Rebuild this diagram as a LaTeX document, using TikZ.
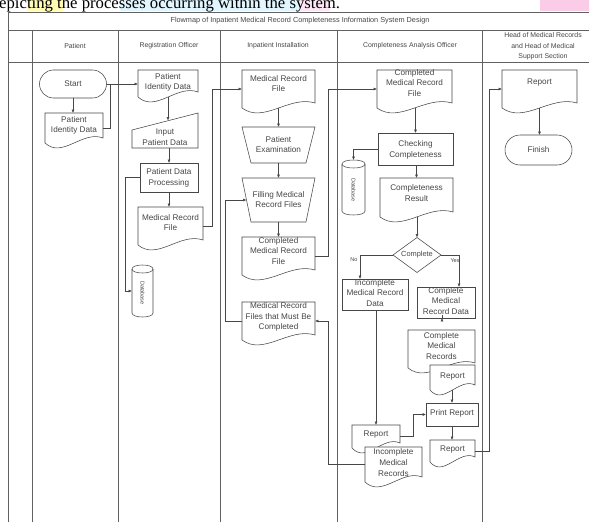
\documentclass[tikz,border=0pt]{standalone}
\usepackage{fontspec}
\setmainfont{Liberation Sans}
\newfontfamily\serifont{Liberation Serif}
\usetikzlibrary{calc,arrows.meta}
\newcommand\docout[2][]{%
  \draw[lin,#1] (#2.south west) -- (#2.north west) -- (#2.north east) -- ($(#2.south east)+(0,-5)$)
    .. controls ($(#2.south west)!0.65!(#2.south east)+(0,-13)$) and ($(#2.south west)!0.3!(#2.south east)+(0,16)$) .. (#2.south west) -- cycle;}
\newcommand\cylout[1]{%
  \draw[lin] ($(#1.north west)+(0,4)$) -- ($(#1.south west)+(0,-4)$)
    .. controls ($(#1.south west)+(0,1.33)$) and ($(#1.south east)+(0,1.33)$) .. ($(#1.south east)+(0,-4)$)
    -- ($(#1.north east)+(0,4)$);
  \draw[lin] ($(#1.north west)+(0,4)$) .. controls ($(#1.north west)+(0,-1.33)$) and ($(#1.north east)+(0,-1.33)$) .. ($(#1.north east)+(0,4)$)
    .. controls ($(#1.north east)+(0,9.33)$) and ($(#1.north west)+(0,9.33)$) .. ($(#1.north west)+(0,4)$);}
\begin{document}
\begin{tikzpicture}[x=1pt,y=-1pt,
  lin/.style={draw=black!72, line width=0.55pt},
  frm/.style={draw=black!62, line width=0.6pt},
  arr/.style={lin, -{Latex[length=3.4pt,width=3pt]}},
  shp/.style={inner sep=0pt, outer sep=0pt, minimum width=#1},
  txt/.style={font=\fontsize{8.2}{10.6}\selectfont, text=black!72, align=center, inner sep=0pt},
  hdr/.style={font=\fontsize{6.9}{10.5}\selectfont, text=black!72, align=center, inner sep=0pt},
  sml/.style={font=\fontsize{5.5}{6}\selectfont, text=black!72, inner sep=0pt},
  procbox/.style={lin, draw, fill=white},
  term/.style={lin, draw, rounded corners=#1}]
\useasboundingbox (0,0) rectangle (589,522);
\begin{scope}
\clip (0,0) rectangle (589,522);
\fill[white] (0,0) rectangle (589,522);
% highlights and clipped caption text above the table
\fill[yellow!30] (27,0) rectangle (63,11);
\fill[cyan!12] (120,0) rectangle (300,11);
\fill[magenta!10] (300,0) rectangle (330,11);
\fill[magenta!20] (540,0) rectangle (589,11);
\node[anchor=base west, inner sep=0pt, font=\serifont\fontsize{16.7}{18}\selectfont] (cap) at (-1,8.5) {epicting the processes occurring within the system.};
% frame
\draw[frm] (8,12) -- (610,12);
\draw[frm] (8,30) -- (610,30);
\draw[frm] (8,62) -- (610,62);
\draw[frm] (8,12) -- (8,530);
\draw[frm] (32,30) -- (32,530);
\draw[frm] (118,30) -- (118,530);
\draw[frm] (220,30) -- (220,530);
\draw[frm] (337,30) -- (337,530);
\draw[frm] (482,30) -- (482,530);
\draw[frm] (604,12) -- (604,530);
\node[hdr, font=\fontsize{7.3}{9}\selectfont] (title) at (300,21) {Flowmap of Inpatient Medical Record Completeness Information System Design};
\node[hdr] (h1) at (75,46) {Patient};
\node[hdr] (h2) at (169,46) {Registration Officer};
\node[hdr] (h3) at (278,46) {Inpatient Installation};
\node[hdr] (h4) at (410,46) {Completeness Analysis Officer};
\node[hdr] (h5) at (543,46.5) {Head of Medical Records\\and Head of Medical\\Support Section};

% ---- Patient
\node[shp=67, minimum height=28, term=14pt] (start) at (73,84) {};
\node[txt] (startt) at (73,84) {Start};
\node[shp=58, minimum height=30] (pid1) at (74,128) {};
\docout{pid1}
\node[txt] (pid1t) at (74,125.5) {Patient\\Identity Data};

% ---- Registration Officer
\node[shp=60, minimum height=27] (pid2) at (168,83.5) {};
\docout{pid2}
\node[txt] (pid2t) at (168,82.5) {Patient\\Identity Data};
\node[shp=66, minimum height=35] (inp) at (165,130.5) {};
\draw[lin] (inp.south west) -- ($(inp.north west)+(0,17)$) -- (inp.north east) -- (inp.south east) -- cycle;
\node[txt] (inpt) at (165,137) {Input\\Patient Data};
\coordinate (inptop) at (168,120.5);
\node[shp=58, minimum height=29, procbox] (proc) at (169,177.5) {};
\node[txt] (proct) at (169,178) {Patient Data\\Processing};
\node[shp=65, minimum height=38] (mrf1) at (170.5,226) {};
\docout{mrf1}
\node[txt] (mrf1t) at (170.5,222.5) {Medical Record\\File};
\node[shp=21, minimum height=52] (cyl1) at (142.5,291) {};
\cylout{cyl1}
\node[sml, rotate=-90] (cyl1t) at (142.5,293) {Database};

% ---- Inpatient Installation
\node[shp=73, minimum height=38] (mrf2) at (278.5,89) {};
\docout{mrf2}
\node[txt] (mrf2t) at (278.5,83.5) {Medical Record\\File};
\node[shp=73, minimum height=36] (exam) at (278.5,145) {};
\draw[lin] (exam.north west) -- (exam.north east) -- ($(exam.south east)+(-9,0)$) -- ($(exam.south west)+(9,0)$) -- cycle;
\node[txt] (examt) at (278.5,144.5) {Patient\\Examination};
\node[shp=73, minimum height=44] (fill) at (278.5,200) {};
\draw[lin] (fill.north west) -- (fill.north east) -- ($(fill.south east)+(-9,0)$) -- ($(fill.south west)+(9,0)$) -- cycle;
\node[txt] (fillt) at (278.5,199.5) {Filling Medical\\Record Files};
\coordinate (fillin) at ($(fill.west)+(4.5,0)$);
\node[shp=73, minimum height=38] (cmrf1) at (278.5,256) {};
\docout{cmrf1}
\node[txt] (cmrf1t) at (278.5,251) {Completed\\Medical Record\\File};
\node[shp=73, minimum height=38] (must) at (278.5,321) {};
\docout{must}
\node[txt] (mustt) at (278.5,317) {Medical Record\\Files that Must Be\\Completed};

% ---- Completeness Analysis Officer
\node[shp=75, minimum height=38] (cmrf2) at (414.5,89) {};
\docout{cmrf2}
\node[txt] (cmrf2t) at (414.5,83) {Completed\\Medical Record\\File};
\node[shp=75, minimum height=32, procbox] (chk) at (415.5,149) {};
\node[txt] (chkt) at (415.5,150) {Checking\\Completeness};
\node[shp=23, minimum height=55] (cyl2) at (353.5,187.5) {};
\cylout{cyl2}
\node[sml, rotate=-90] (cyl2t) at (353.5,190) {Database};
\node[shp=73, minimum height=39] (cres) at (416.5,197.5) {};
\docout{cres}
\node[txt] (crest) at (416.5,193) {Completeness\\Result};
\node[shp=48, minimum height=35] (dia) at (417,255) {};
\draw[lin] (dia.north) -- (dia.east) -- (dia.south) -- (dia.west) -- cycle;
\node[txt, font=\fontsize{7.4}{9}\selectfont] (diat) at (417,254.5) {Complete};
\node[shp=66, minimum height=31, procbox] (inc) at (375,294.5) {};
\node[txt] (inct) at (375,293) {Incomplete\\Medical Record\\Data};
\coordinate (incin) at ($(inc.north west)+(18,0)$);
\node[shp=58, minimum height=31, procbox] (cmd) at (446,302.5) {};
\node[txt] (cmdt) at (446,301) {Complete\\Medical\\Record Data};
\coordinate (cmdin) at ($(cmd.north west)+(42,0)$);
\node[shp=67, minimum height=38] (cmr) at (441.5,349) {};
\docout{cmr}
\node[txt] (cmrt) at (441.5,346) {Complete\\Medical\\Records};
\node[shp=45, minimum height=25] (rep1) at (452.5,377.5) {};
\docout[fill=white]{rep1}
\node[txt] (rep1t) at (452.5,377) {Report};
\node[shp=52, minimum height=23, procbox] (prt) at (452,414.5) {};
\node[txt] (prtt) at (452,413.5) {Print Report};
\node[shp=48, minimum height=23] (rep2) at (376,436.5) {};
\docout[fill=white]{rep2}
\node[txt] (rep2t) at (376,435) {Report};
\node[shp=57, minimum height=35] (imr) at (393.5,464.5) {};
\docout[fill=white]{imr}
\node[txt] (imrt) at (393.5,462.5) {Incomplete\\Medical\\Records};
\node[shp=45, minimum height=22] (rep3) at (452.5,451) {};
\docout[fill=white]{rep3}
\node[txt] (rep3t) at (452.5,450) {Report};

% ---- Head of Medical Records
\node[shp=75, minimum height=38] (rep4) at (539.5,89) {};
\docout{rep4}
\node[txt] (rep4t) at (539.5,83) {Report};
\node[shp=67, minimum height=30, term=15pt] (fin) at (538.5,150) {};
\node[txt] (fint) at (538.5,150) {Finish};

% ---- connectors
\draw[arr] (start.south) -- (start.south |- pid1.north);
\draw[arr] (start.east) -- (start.east -| pid2.west);
\draw[lin] (pid1.east) -| ($(start.east)+(3.5,0)$);
\draw[arr] (pid2.south -| inptop) -- (inptop);
\draw[arr] (inp.south -| proc.north) -- (proc.north);
\draw[arr] (proc.south) -- (proc.south |- mrf1.north);
\draw[arr] (proc.west) -- ++(-15,0) |- (cyl1.west);
\draw[arr] (mrf1.east) -- ++(9,0) |- (mrf2.west);
\draw[arr] (mrf2.south) -- (exam.north);
\draw[arr] (exam.south) -- (fill.north);
\draw[arr] (fill.south) -- (cmrf1.north);
\draw[arr] (must.west) -- ++(-17,0) |- (fillin);
\draw[arr] (cmrf1.east) -- ++(13,0) |- (cmrf2.west);
\draw[arr] (cmrf2.south -| chk.north) -- (chk.north);
\draw[arr] (chk.west) -| (cyl2.north);
\draw[arr] (chk.south -| cres.north) -- (cres.north);
\draw[arr] (cres.south -| dia.north) -- (dia.north);
\draw[arr] (dia.west) -| (incin);
\draw[arr] (dia.east) -| (cmdin);
\node[sml] (nolab) at (354,260) {No};
\node[sml] (yeslab) at (455,261) {Yes};
\draw[arr] ($(cmd.south)+(-4,0)$) -- ($(cmd.south)+(-4,0)$ |- cmr.north);
\draw[arr] (rep1.south -| prt.north) -- (prt.north);
\draw[arr] (inc.south -| rep2.north) -- (rep2.north);
\draw[arr] (rep2.east) -- ++(13,0) |- (prt.west);
\draw[arr] (prt.south) -- (prt.south |- rep3.north);
\draw[arr] (rep3.east) -- ++(14,0) |- (rep4.west);
\draw[arr] (rep4.south) -- (rep4.south |- fin.north);
\draw[arr] (imr.west) -- ++(-37,0) |- (must.east);
\end{scope}
\end{tikzpicture}
\end{document}
